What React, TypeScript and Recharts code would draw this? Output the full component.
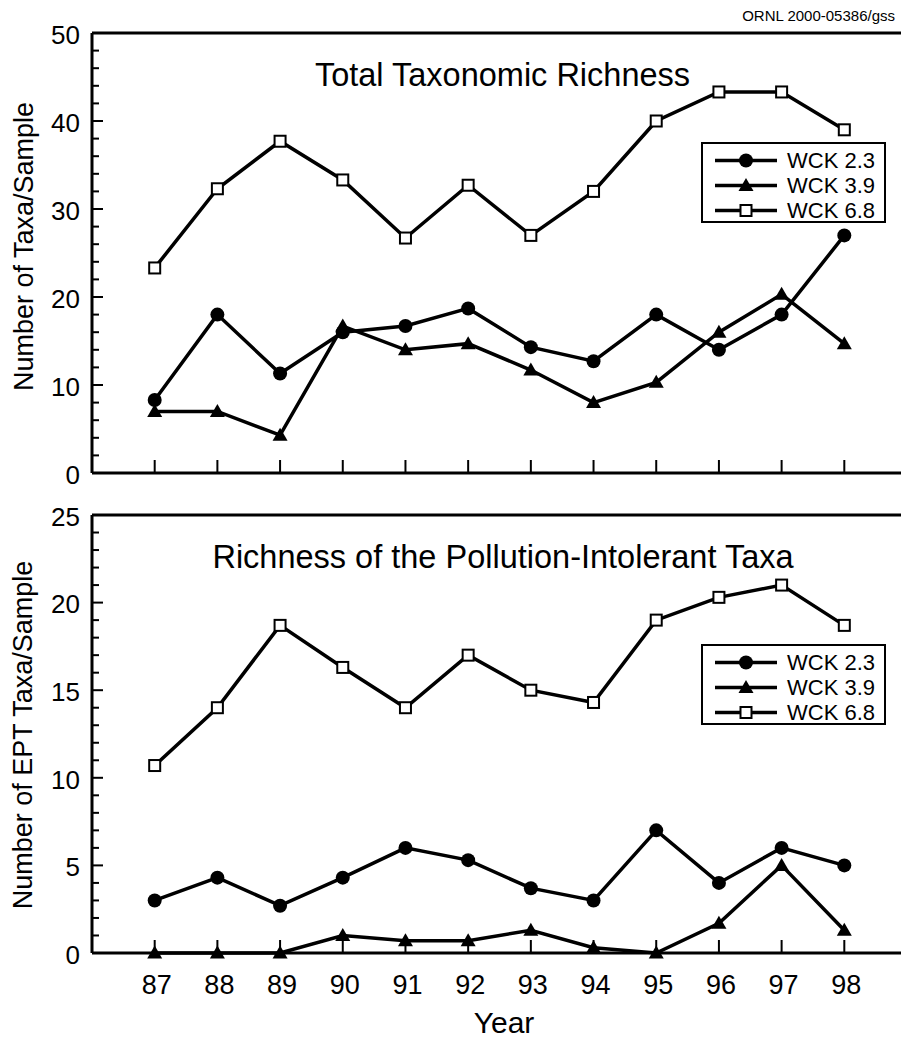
import { LineChart, Line, XAxis, YAxis, Legend } from "recharts";

const years = [87, 88, 89, 90, 91, 92, 93, 94, 95, 96, 97, 98];

// Total taxonomic richness (taxa/sample)
const totalWck23 = [8.3, 18.0, 11.3, 16.0, 16.7, 18.7, 14.3, 12.7, 18.0, 14.0, 18.0, 27.0];
const totalWck39 = [7.0, 7.0, 4.3, 16.7, 14.0, 14.7, 11.7, 8.0, 10.3, 16.0, 20.3, 14.7];
const totalWck68 = [23.3, 32.3, 37.7, 33.3, 26.7, 32.7, 27.0, 32.0, 40.0, 43.3, 43.3, 39.0];

// EPT (pollution-intolerant) richness
const eptWck23 = [3.0, 4.3, 2.7, 4.3, 6.0, 5.3, 3.7, 3.0, 7.0, 4.0, 6.0, 5.0];
const eptWck39 = [0, 0, 0, 1.0, 0.7, 0.7, 1.3, 0.3, 0, 1.7, 5.0, 1.3];
const eptWck68 = [10.7, 14.0, 18.7, 16.3, 14.0, 17.0, 15.0, 14.3, 19.0, 20.3, 21.0, 18.7];

const seriesNames = ["WCK 2.3", "WCK 3.9", "WCK 6.8"];

const totalTicks = [0, 2, 4, 6, 8, 10, 12, 14, 16, 18, 20, 22, 24, 26, 28, 30, 32, 34, 36, 38, 40, 42, 44, 46, 48, 50];
const totalLabels = [0, 10, 20, 30, 40, 50];
const eptTicks = [0, 1, 2, 3, 4, 5, 6, 7, 8, 9, 10, 11, 12, 13, 14, 15, 16, 17, 18, 19, 20, 21, 22, 23, 24, 25];
const eptLabels = [0, 5, 10, 15, 20, 25];

const totalRows = years.map((year, i) => ({
  year,
  wck23: totalWck23[i],
  wck39: totalWck39[i],
  wck68: totalWck68[i],
}));
const eptRows = years.map((year, i) => ({
  year,
  wck23: eptWck23[i],
  wck39: eptWck39[i],
  wck68: eptWck68[i],
}));

const FONT = "'Liberation Sans', Arial, Helvetica, sans-serif";
const shapes: Record<string, string> = { wck23: "circle", wck39: "triangle", wck68: "square" };

function Marker({ shape, cx, cy }: { shape: string; cx: number; cy: number }) {
  if (shape === "circle") return <circle cx={cx} cy={cy} r={7} fill="#000" />;
  if (shape === "triangle")
    return <polygon points={`${cx},${cy - 7.5} ${cx + 7.5},${cy + 5.5} ${cx - 7.5},${cy + 5.5}`} fill="#000" />;
  return <rect x={cx - 5.5} y={cy - 5.5} width={11} height={11} fill="#fff" stroke="#000" strokeWidth={2} />;
}

const dotFor = (key: string) => (p: any) =>
  <Marker key={`${key}-${p.index}`} shape={shapes[key]} cx={p.cx} cy={p.cy} />;

function LeftTick({ x, y, payload, labels }: any) {
  const major = labels.includes(payload.value);
  return (
    <g>
      <line x1={x} x2={x + (major ? 11 : 7)} y1={y} y2={y} stroke="#000" strokeWidth={2} />
      {major && (
        <text x={x - 12} y={y + 1.5} dy="0.36em" textAnchor="end" fontSize={26} fontFamily={FONT} fill="#000">
          {payload.value}
        </text>
      )}
    </g>
  );
}

function RightTick({ x, y, payload, labels }: any) {
  const major = labels.includes(payload.value);
  return <line x1={x} x2={x - (major ? 12 : 7)} y1={y} y2={y} stroke="#000" strokeWidth={2} />;
}

function BottomTick({ x, y, payload, showLabel }: any) {
  return (
    <g>
      <line x1={x} x2={x} y1={y} y2={y - 13} stroke="#000" strokeWidth={2} />
      {showLabel && (
        <text x={x + 2} y={y + 41} textAnchor="middle" fontSize={27} fontFamily={FONT} fill="#000">
          {payload.value}
        </text>
      )}
    </g>
  );
}

function TopTick({ x, y }: any) {
  return <line x1={x} x2={x} y1={y} y2={y + 13} stroke="#000" strokeWidth={2} />;
}

function LegendBox({ payload }: any) {
  return (
    <div
      style={{
        boxSizing: "border-box",
        width: 185,
        height: 81,
        border: "2px solid #000",
        background: "#fff",
        paddingTop: 4,
        fontFamily: FONT,
        fontSize: 22,
        color: "#000",
      }}
    >
      {(payload || []).map((entry: any, i: number) => (
        <div key={i} style={{ display: "flex", alignItems: "center", height: 25 }}>
          <svg width={80} height={25} style={{ display: "block" }}>
            <line x1={12} x2={74} y1={12.5} y2={12.5} stroke="#000" strokeWidth={3.5} />
            <Marker shape={shapes[entry.dataKey]} cx={43} cy={12.5} />
          </svg>
          <span style={{ marginLeft: 4, lineHeight: "25px" }}>{entry.value}</span>
        </div>
      ))}
    </div>
  );
}

function Panel({ rows, ticks, labels, max, height, marginTop, marginBottom, legendTop, showXLabels }: any) {
  return (
    <LineChart
      width={920}
      height={height}
      data={rows}
      margin={{ top: marginTop - 1, right: 12, bottom: marginBottom - 1, left: 91 }}
    >
      <XAxis
        dataKey="year"
        type="number"
        domain={[86, 99]}
        ticks={years}
        height={1}
        tickSize={0}
        tickMargin={0}
        tickLine={false}
        axisLine={{ stroke: "#000", strokeWidth: 3 }}
        tick={(p: any) => <BottomTick {...p} showLabel={showXLabels} />}
      />
      <XAxis
        xAxisId="top"
        orientation="top"
        type="number"
        domain={[86, 99]}
        ticks={years}
        height={1}
        tickSize={0}
        tickMargin={0}
        tickLine={false}
        axisLine={{ stroke: "#000", strokeWidth: 3 }}
        tick={(p: any) => <TopTick {...p} />}
      />
      <YAxis
        type="number"
        domain={[0, max]}
        ticks={ticks}
        interval={0}
        width={1}
        tickSize={0}
        tickMargin={0}
        tickLine={false}
        axisLine={{ stroke: "#000", strokeWidth: 3 }}
        tick={(p: any) => <LeftTick {...p} labels={labels} />}
      />
      <YAxis
        yAxisId="right"
        orientation="right"
        type="number"
        domain={[0, max]}
        ticks={ticks}
        interval={0}
        width={1}
        tickSize={0}
        tickMargin={0}
        tickLine={false}
        axisLine={{ stroke: "#000", strokeWidth: 3 }}
        tick={(p: any) => <RightTick {...p} labels={labels} />}
      />
      <Legend
        layout="vertical"
        align="center"
        verticalAlign="middle"
        width={185}
        wrapperStyle={{ left: 701, top: legendTop, width: 185 }}
        content={(props: any) => <LegendBox payload={props.payload} />}
      />
      <Line dataKey="wck23" name={seriesNames[0]} stroke="#000" strokeWidth={3.5} dot={dotFor("wck23")} activeDot={false} isAnimationActive={false} />
      <Line dataKey="wck39" name={seriesNames[1]} stroke="#000" strokeWidth={3.5} dot={dotFor("wck39")} activeDot={false} isAnimationActive={false} />
      <Line dataKey="wck68" name={seriesNames[2]} stroke="#000" strokeWidth={3.5} dot={dotFor("wck68")} activeDot={false} isAnimationActive={false} />
    </LineChart>
  );
}

export default function App() {
  return (
    <div style={{ position: "absolute", left: 0, top: 0, width: 901, height: 1038, overflow: "hidden", background: "#fff" }}>
      <div style={{ position: "absolute", left: 0, top: 0 }}>
        <Panel rows={totalRows} ticks={totalTicks} labels={totalLabels} max={50} height={500} marginTop={33} marginBottom={27} legendTop={142} showXLabels={false} />
      </div>
      <div style={{ position: "absolute", left: 0, top: 500 }}>
        <Panel rows={eptRows} ticks={eptTicks} labels={eptLabels} max={25} height={538} marginTop={15} marginBottom={85} legendTop={144} showXLabels={true} />
      </div>
      <svg width={901} height={1038} style={{ position: "absolute", left: 0, top: 0, pointerEvents: "none" }} fontFamily={FONT} fill="#000">
        <text x={895} y={20.5} textAnchor="end" fontSize={15}>ORNL 2000-05386/gss</text>
        <text x={502.5} y={85.7} textAnchor="middle" fontSize={32.5}>Total Taxonomic Richness</text>
        <text x={503} y={568.3} textAnchor="middle" fontSize={32.5}>Richness of the Pollution-Intolerant Taxa</text>
        <text x={33} y={246.5} textAnchor="middle" fontSize={27} transform="rotate(-90 33 246.5)">Number of Taxa/Sample</text>
        <text x={32} y={735} textAnchor="middle" fontSize={27} transform="rotate(-90 32 735)">Number of EPT Taxa/Sample</text>
        <text x={504} y={1033} textAnchor="middle" fontSize={30}>Year</text>
      </svg>
    </div>
  );
}
